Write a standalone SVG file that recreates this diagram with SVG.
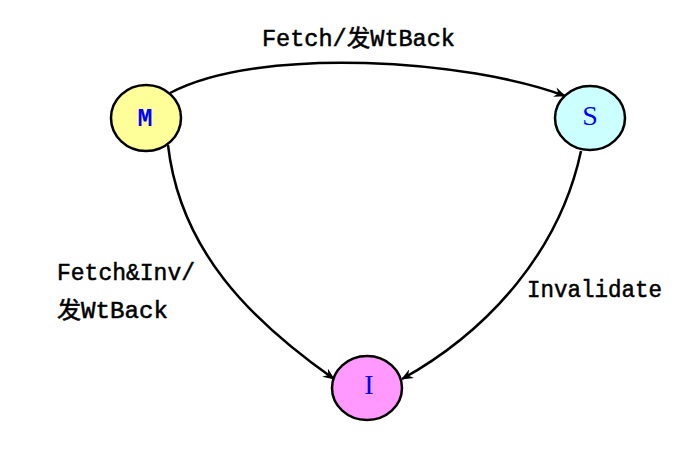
<svg xmlns="http://www.w3.org/2000/svg" width="689" height="455" viewBox="0 0 689 455">
<style>
.node{stroke:#000;stroke-width:2.5}
.lbl{font-family:"Liberation Mono","Noto Sans CJK SC",monospace;font-size:23px;fill:#000;stroke:#000;stroke-width:0.5}
.st{font-family:"Liberation Serif",serif;font-size:28px;fill:#0000ff}
.edge{fill:none;stroke:#000;stroke-width:2.5}
</style>
<defs>
<marker id="arr" viewBox="0 0 12 10" refX="11" refY="5" markerWidth="12" markerHeight="10" markerUnits="userSpaceOnUse" orient="auto">
<path d="M0,0 L12,5 L0,10 L4,5 Z" fill="#000"/>
</marker>
</defs>
<rect width="689" height="455" fill="#fff"/>
<g id="connectors">
<path class="edge" d="M170,93 C260,45 470,60 565,96" marker-end="url(#arr)"/>
<path class="edge" d="M168,145 C180,250 250,320 334,379" marker-end="url(#arr)"/>
<path class="edge" d="M581,151 C560,250 490,330 402,379" marker-end="url(#arr)"/>
</g>
<g id="node-M">
<ellipse class="node" cx="146" cy="118" rx="35" ry="33" fill="#ffff99"/>
<text x="145" y="126" text-anchor="middle" font-family="Liberation Mono,monospace" font-weight="bold" font-size="25" fill="#0000ff">M</text>
</g>
<g id="node-S">
<ellipse class="node" cx="590" cy="118" rx="35" ry="32" fill="#ccffff"/>
<text class="st" x="590" y="125" text-anchor="middle">S</text>
</g>
<g id="node-I">
<ellipse class="node" cx="367" cy="388" rx="35" ry="32" fill="#ff99ff"/>
<text class="st" x="369" y="394" text-anchor="middle">I</text>
</g>
<g id="labels">
<text class="lbl" x="262" y="46" textLength="193" lengthAdjust="spacingAndGlyphs">Fetch/发WtBack</text>
<text class="lbl" x="57" y="280" textLength="138" lengthAdjust="spacingAndGlyphs">Fetch&amp;Inv/</text>
<text class="lbl" x="57" y="318" textLength="111" lengthAdjust="spacingAndGlyphs">发WtBack</text>
<text class="lbl" x="527" y="297" textLength="135" lengthAdjust="spacingAndGlyphs">Invalidate</text>
</g>
</svg>
